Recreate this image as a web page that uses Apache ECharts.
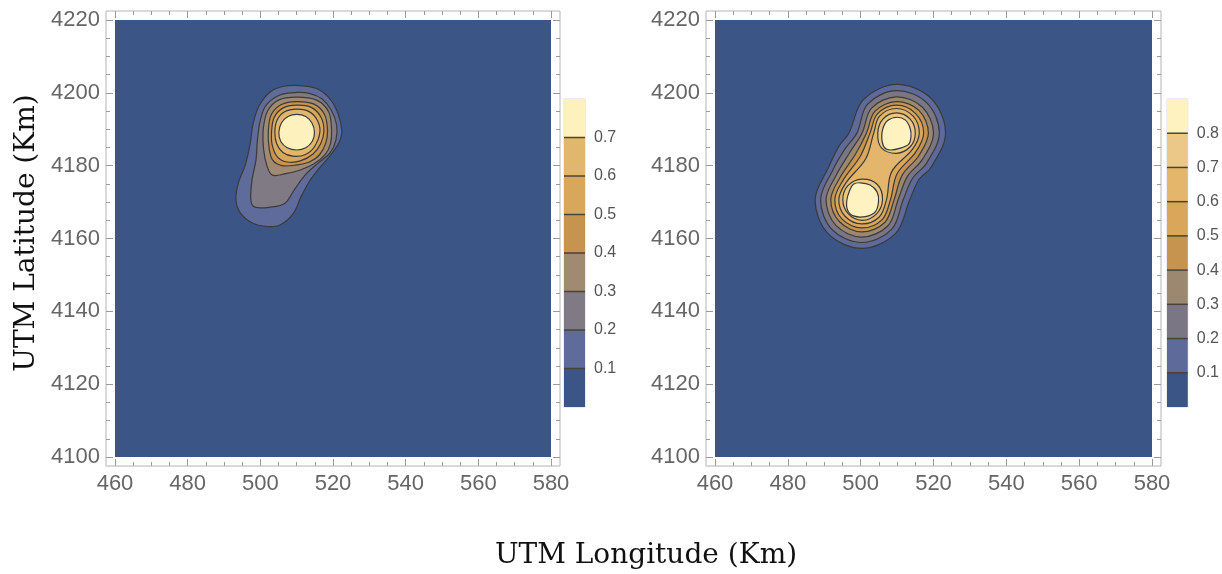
<!DOCTYPE html>
<html>
<head>
<meta charset="utf-8">
<script src="https://cdn.jsdelivr.net/npm/echarts@6/dist/echarts.min.js"></script>
<style>
  html, body { margin: 0; padding: 0; background: #fff; }
  #chart { width: 1222px; height: 574px; }
</style>
</head>
<body>
<div id="chart"></div>
<script>
// axis extents (UTM km)
const lonRange = [460, 580];
const latRange = [4100, 4220];

// colour bands: band i spans edges[i]..edges[i+1]
const leftEdges = [0, 0.1, 0.2, 0.3, 0.4, 0.5, 0.6, 0.7, 0.8];
const leftColors = ['#3b5587', '#5f6b9b', '#807a85', '#a08a71', '#c6944f', '#d9a75b', '#e1b66d', '#fdf1be'];
const rightEdges = [0, 0.1, 0.2, 0.3, 0.4, 0.5, 0.6, 0.7, 0.8, 0.9];
const rightColors = ['#3b5587', '#5e6a9a', '#7b7683', '#9c8870', '#c6944f', '#daa75a', '#e3b66c', '#ebc888', '#fdf2c0'];

// left panel contour lines, [lon, lat]
const left01 = [[506.5, 4201.8], [510.9, 4202.0], [515.5, 4201.2], [518.7, 4198.9], [521.0, 4195.3], [522.4, 4189.8], [521.7, 4186.4], [519.4, 4183.0], [516.4, 4179.5], [513.7, 4176.0], [511.2, 4171.5], [509.1, 4166.9], [505.4, 4163.7], [501.8, 4163.3], [498.1, 4164.1], [494.6, 4166.9], [493.3, 4170.5], [493.9, 4175.1], [495.8, 4180.0], [497.2, 4186.0], [498.0, 4191.5], [499.7, 4196.5], [502.8, 4200.3]];
const left02 = [[510.0, 4200.1], [513.7, 4199.8], [517.0, 4198.3], [519.5, 4195.3], [521.0, 4191.2], [520.8, 4187.0], [519.2, 4183.5], [515.9, 4180.7], [512.3, 4177.4], [509.3, 4173.3], [506.8, 4169.7], [502.7, 4168.6], [498.5, 4168.6], [497.4, 4170.5], [497.7, 4176.0], [498.8, 4181.5], [499.2, 4187.0], [500.0, 4192.5], [501.6, 4196.6], [505.4, 4199.4]];
const left03 = [[519.6, 4189.8], [519.3, 4186.0], [517.8, 4183.0], [514.8, 4180.5], [511.0, 4178.8], [507.0, 4177.8], [503.3, 4177.4], [501.8, 4180.0], [500.9, 4184.5], [500.8, 4190.0], [502.0, 4195.0], [505.0, 4198.0], [510.0, 4198.8], [515.5, 4198.0], [518.8, 4194.8]];
const left04 = [[518.5, 4189.6], [518.0, 4186.2], [516.3, 4183.0], [513.5, 4181.0], [510.0, 4180.2], [506.0, 4180.0], [503.4, 4181.5], [502.4, 4185.0], [502.2, 4189.5], [503.0, 4194.0], [505.8, 4196.8], [510.0, 4197.6], [514.8, 4196.9], [517.7, 4194.0]];
const left05 = [[517.5, 4189.5], [516.6, 4186.0], [514.5, 4183.2], [511.0, 4181.3], [507.5, 4181.0], [504.8, 4182.3], [503.3, 4185.5], [503.1, 4189.3], [503.8, 4193.2], [506.2, 4195.8], [510.0, 4196.6], [514.0, 4196.0], [516.7, 4193.3]];
const left06 = [[516.4, 4189.3], [514.9, 4185.2], [512.3, 4183.0], [509.0, 4182.6], [506.2, 4183.6], [504.5, 4186.0], [504.0, 4189.2], [504.6, 4192.5], [506.7, 4194.8], [510.0, 4195.5], [513.3, 4194.9], [515.6, 4192.6]];
const left07 = [[514.9, 4189.2], [514.2, 4191.7], [512.5, 4193.5], [510.0, 4194.1], [507.6, 4193.5], [505.8, 4191.7], [505.1, 4189.2], [505.6, 4186.7], [507.4, 4184.9], [510.0, 4184.3], [512.5, 4184.9], [514.3, 4186.7]];

// right panel contour lines
const right01 = [[509.8, 4202.3], [519.3, 4198.5], [523.3, 4189.0], [519.3, 4179.5], [516.0, 4176.2], [513.5, 4170.7], [509.6, 4161.4], [500.3, 4157.3], [491.0, 4161.4], [487.5, 4170.7], [491.3, 4179.8], [494.0, 4185.3], [496.8, 4189.0], [500.7, 4198.1]];
const right02 = [[509.8, 4200.6], [518.1, 4197.3], [521.6, 4189.0], [518.1, 4180.7], [514.3, 4176.6], [511.7, 4170.7], [508.5, 4162.5], [500.3, 4158.9], [492.1, 4162.5], [489.0, 4170.7], [492.3, 4178.7], [495.7, 4184.6], [499.0, 4189.0], [501.9, 4196.9]];
const right03 = [[509.8, 4198.9], [516.9, 4196.1], [520.0, 4189.0], [517.0, 4181.8], [512.8, 4177.0], [510.3, 4170.7], [507.5, 4163.5], [500.3, 4160.4], [493.2, 4163.6], [490.5, 4170.7], [493.4, 4177.6], [497.2, 4183.9], [500.4, 4189.0], [503.0, 4195.8]];
const right04 = [[509.8, 4197.6], [516.0, 4195.2], [518.6, 4189.0], [516.0, 4182.8], [511.4, 4177.4], [509.2, 4170.7], [506.6, 4164.4], [500.3, 4161.8], [494.2, 4164.6], [491.8, 4170.7], [494.3, 4176.7], [498.6, 4183.2], [501.6, 4189.0], [503.9, 4194.9]];
const right05 = [[509.8, 4196.6], [515.1, 4194.3], [517.3, 4189.0], [515.1, 4183.7], [510.0, 4177.8], [508.2, 4170.7], [505.9, 4165.2], [500.3, 4162.9], [494.9, 4165.3], [492.9, 4170.7], [495.1, 4175.9], [499.9, 4182.6], [502.6, 4189.0], [504.6, 4194.2]];
const right06 = [[509.8, 4195.7], [514.4, 4193.6], [516.1, 4189.0], [514.3, 4184.6], [508.5, 4178.3], [507.1, 4170.7], [505.1, 4165.9], [500.3, 4164.0], [495.7, 4166.1], [494.0, 4170.7], [495.9, 4175.2], [501.4, 4181.9], [503.6, 4189.0], [505.2, 4193.6]];
const right07a = [[509.8, 4194.5], [513.6, 4192.8], [515.0, 4189.0], [513.6, 4185.2], [509.8, 4183.4], [505.7, 4184.9], [504.7, 4189.0], [506.1, 4192.8]];
const right07b = [[500.3, 4176.3], [504.5, 4174.9], [506.0, 4170.7], [504.3, 4166.7], [500.3, 4165.0], [496.5, 4166.9], [495.1, 4170.7], [496.5, 4174.5]];
const right08a = [[510.0, 4193.3], [512.3, 4192.5], [513.6, 4190.2], [513.8, 4187.9], [513.2, 4185.9], [510.9, 4184.8], [508.1, 4184.3], [506.5, 4185.0], [505.8, 4187.5], [506.1, 4190.2], [507.4, 4192.4]];
const right08b = [[499.9, 4175.3], [502.6, 4174.7], [504.5, 4172.8], [504.9, 4170.1], [504.0, 4167.3], [501.3, 4166.0], [498.0, 4166.2], [496.4, 4167.8], [496.2, 4170.5], [497.1, 4173.5], [498.0, 4174.9]];

const leftContours = [
  [0.1, left01], [0.2, left02], [0.3, left03], [0.4, left04],
  [0.5, left05], [0.6, left06], [0.7, left07]
];
const rightContours = [
  [0.1, right01], [0.2, right02], [0.3, right03], [0.4, right04],
  [0.5, right05], [0.6, right06], [0.7, right07a], [0.7, right07b],
  [0.8, right08a], [0.8, right08b]
];

const chart = echarts.init(document.getElementById('chart'));

const tickColor = '#9a9a9a';
const labelFont = { color: '#666', fontSize: 22, fontFamily: 'Liberation Sans, Arial, sans-serif' };

// draws each filled contour, lowest level first
const contourSeries = (contours, colors, axisIndex) => ({
  type: 'custom',
  xAxisIndex: axisIndex,
  yAxisIndex: axisIndex,
  clip: true,
  data: contours.map(c => c[1][0]),
  renderItem: (params, api) => {
    const [level, pts] = contours[params.dataIndex];
    return {
      type: 'polygon',
      shape: { points: pts.map(p => api.coord(p)), smooth: 0.35 },
      style: { fill: colors[Math.round(level * 10)], stroke: '#3a3a3a', lineWidth: 1.2 }
    };
  }
});

// colour legend bar
const barSeries = (edges, colors, axisIndex) => ({
  type: 'custom',
  xAxisIndex: axisIndex,
  yAxisIndex: axisIndex,
  data: colors.map((c, i) => [0.5, edges[i]]),
  renderItem: (params, api) => {
    const i = params.dataIndex;
    const lo = api.coord([0, edges[i]]);
    const hi = api.coord([1, edges[i + 1]]);
    const children = [{
      type: 'rect',
      shape: { x: lo[0], y: hi[1], width: hi[0] - lo[0], height: lo[1] - hi[1] },
      style: { fill: colors[i] }
    }];
    if (i > 0) {
      children.push({
        type: 'line',
        shape: { x1: lo[0], y1: lo[1], x2: hi[0], y2: lo[1] },
        style: { stroke: '#4a4236', lineWidth: 1.5 }
      });
    }
    return { type: 'group', children };
  }
});

const dataX = (gridIndex, position, showLabel) => ({
  gridIndex, type: 'value', position, offset: 9,
  min: lonRange[0], max: lonRange[1], interval: 20,
  axisLine: { show: false },
  axisTick: { show: true, inside: true, length: 7, lineStyle: { color: tickColor } },
  minorTick: { show: true, splitNumber: 4, length: 4, lineStyle: { color: tickColor } },
  axisLabel: { show: showLabel, margin: 7, formatter: v => String(v), ...labelFont },
  splitLine: { show: false }
});

const dataY = (gridIndex, position, showLabel) => ({
  gridIndex, type: 'value', position, offset: 9,
  min: latRange[0], max: latRange[1], interval: 20,
  axisLine: { show: false },
  axisTick: { show: true, inside: true, length: 7, lineStyle: { color: tickColor } },
  minorTick: { show: true, splitNumber: 4, length: 4, lineStyle: { color: tickColor } },
  axisLabel: { show: showLabel, margin: 6, formatter: v => String(v), ...labelFont },
  splitLine: { show: false }
});

const barX = gridIndex => ({ gridIndex, type: 'value', min: 0, max: 1, show: false });
const barY = (gridIndex, edges) => ({
  gridIndex, type: 'value', position: 'right',
  min: edges[0], max: edges[edges.length - 1],
  axisLine: { show: false },
  axisTick: { show: true, length: 6, lineStyle: { color: tickColor }, customValues: edges.slice(1, -1) },
  axisLabel: {
    customValues: edges.slice(1, -1), margin: 9,
    formatter: v => v.toFixed(1),
    color: '#555', fontSize: 16, fontFamily: 'Liberation Sans, Arial, sans-serif'
  },
  splitLine: { show: false }
});

const hidden = gridIndex => ({ gridIndex, type: 'value', show: false, min: 0, max: 1 });

chart.setOption({
  animation: false,
  backgroundColor: '#fff',
  grid: [
    { left: 115, top: 20, width: 436, height: 437, show: true, backgroundColor: leftColors[0], borderWidth: 0 },
    { left: 715, top: 20, width: 437, height: 437, show: true, backgroundColor: rightColors[0], borderWidth: 0 },
    { left: 564, top: 99, width: 21, height: 308, show: true, borderColor: '#d8d8d8', borderWidth: 1 },
    { left: 1167, top: 99, width: 22, height: 308, show: true, borderColor: '#d8d8d8', borderWidth: 1 },
    { left: 106, top: 11, width: 454, height: 455, show: true, borderColor: '#b4b4b4', borderWidth: 1 },
    { left: 706, top: 11, width: 455, height: 455, show: true, borderColor: '#b4b4b4', borderWidth: 1 }
  ],
  xAxis: [
    dataX(0, 'bottom', true), dataX(0, 'top', false),
    dataX(1, 'bottom', true), dataX(1, 'top', false),
    barX(2), barX(3), hidden(4), hidden(5)
  ],
  yAxis: [
    dataY(0, 'left', true), dataY(0, 'right', false),
    dataY(1, 'left', true), dataY(1, 'right', false),
    barY(2, leftEdges), barY(3, rightEdges), hidden(4), hidden(5)
  ],
  series: [
    contourSeries(leftContours, leftColors, 0),
    contourSeries(rightContours, rightColors, 2),
    barSeries(leftEdges, leftColors, 4),
    barSeries(rightEdges, rightColors, 5)
  ],
  graphic: [
    {
      type: 'text', x: 27, y: 233, rotation: Math.PI / 2,
      style: { text: 'UTM Latitude (Km)', font: '28px "DejaVu Serif", serif', fill: '#111', align: 'center', verticalAlign: 'middle' }
    },
    {
      type: 'text', x: 646, y: 556,
      style: { text: 'UTM Longitude (Km)', font: '28px "DejaVu Serif", serif', fill: '#111', align: 'center', verticalAlign: 'middle' }
    }
  ]
});
</script>
</body>
</html>
